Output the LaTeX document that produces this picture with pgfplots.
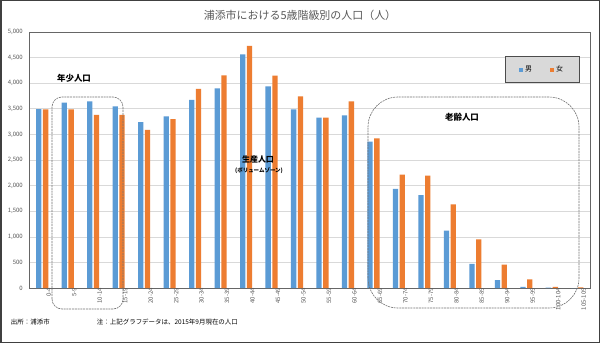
\documentclass[border=0pt]{standalone}
\usepackage{pgfplots}
\pgfplotsset{compat=1.18}
\usepackage{pgfplotstable}
\usepackage{fontspec}
\setmainfont{Noto Sans CJK JP}
\definecolor{mblue}{HTML}{5B9BD5}
\definecolor{forange}{HTML}{ED7D31}
\definecolor{tgray}{HTML}{595959}
\definecolor{lgray}{HTML}{D9D9D9}
\pgfplotstableread{
x male female
0 3496 3490
1 3620 3490
2 3646 3379
3 3548 3379
4 3242 3086
5 3353 3300
6 3672 3887
7 3900 4154
8 4564 4727
9 3939 4147
10 3490 3744
11 3327 3327
12 3372 3646
13 2858 2923
14 1934 2213
15 1816 2193
16 1119 1634
17 469 951
18 156 455
19 20 170
20 8 20
21 0 10
}\datatable
\begin{document}
\begin{tikzpicture}[x=1bp,y=1bp]
\useasboundingbox (0,0) rectangle (600,343);
\fill[white] (0,0) rectangle (600,343);
\node[font=\fontsize{11}{13}\selectfont, text=tgray] at (300,328) {浦添市における5歳階級別の人口（人）};
\begin{axis}[
  at={(29.5bp,55bp)}, anchor=south west,
  scale only axis, width=560.5bp, height=256bp,
  ybar=1.5bp, bar width=5.3bp,
  xmin=-0.5, xmax=21.5, ymin=0, ymax=5000,
  ytick={0,500,...,5000},
  xtick={0,...,21},
  xticklabels={0-4,5-9,10-14,15-19,20-24,25-29,30-34,35-39,40-44,45-49,50-54,55-59,60-64,65-69,70-74,75-79,80-84,85-89,90-94,95-99,100-104,105-109},
  major tick length=0pt,
  ymajorgrids, grid style={draw=lgray, line width=0.6bp},
  axis line style={draw=black!60, line width=0.8bp},
  /pgf/number format/.cd, 1000 sep={,}, assume math mode=true, /pgfplots/.cd,
  tick label style={font=\fontsize{6}{7}\selectfont, text=tgray},
  yticklabel style={inner sep=0pt, xshift=-6.5bp},
  xticklabel style={rotate=90, anchor=east, inner sep=0pt, yshift=-6.5bp},
  legend style={at={(0.9813,0.906)}, anchor=north east, fill=lgray, draw=black!70, line width=1bp,
    font=\fontsize{7}{8}\selectfont, inner xsep=14bp, inner ysep=7.5bp},
  legend columns=2,
  legend cell align=left,
  /tikz/every even column/.append style={column sep=16bp},
  legend image code/.code={\fill[#1] (0bp,-2bp) rectangle (4bp,2bp);},
]
\addplot[fill=mblue, draw=none] table[x=x, y=male] {\datatable};
\addlegendentry{男}
\addplot[fill=forange, draw=none] table[x=x, y=female] {\datatable};
\addlegendentry{女}
\end{axis}
\draw[black!55, dash pattern=on 2bp off 0.8bp, line width=0.6bp, rounded corners=10bp] (52,34) rectangle (123,246);
\draw[black!55, dash pattern=on 2bp off 0.8bp, line width=0.6bp, rounded corners=30bp] (368,35) rectangle (579,246);
\node[font=\fontsize{8.5}{10}\selectfont\bfseries] at (74,265) {年少人口};
\node[font=\fontsize{8}{10}\selectfont\bfseries] at (258,184) {生産人口};
\node[font=\fontsize{5.5}{7}\selectfont\bfseries] at (259,172.3) {(ボリュームゾーン)};
\node[font=\fontsize{8.5}{10}\selectfont\bfseries] at (462,226) {老齢人口};
\node[font=\fontsize{6.5}{8}\selectfont, anchor=west, inner sep=0pt] at (10.7,21) {出所：浦添市};
\node[font=\fontsize{6.5}{8}\selectfont, anchor=west, inner sep=0pt] at (96.7,21) {注：上記グラフデータは、2015年9月現在の人口};
\draw[line width=1.5bp, draw=black!75] (0.75,0.75) rectangle (599.25,342.25);
\end{tikzpicture}
\end{document}
